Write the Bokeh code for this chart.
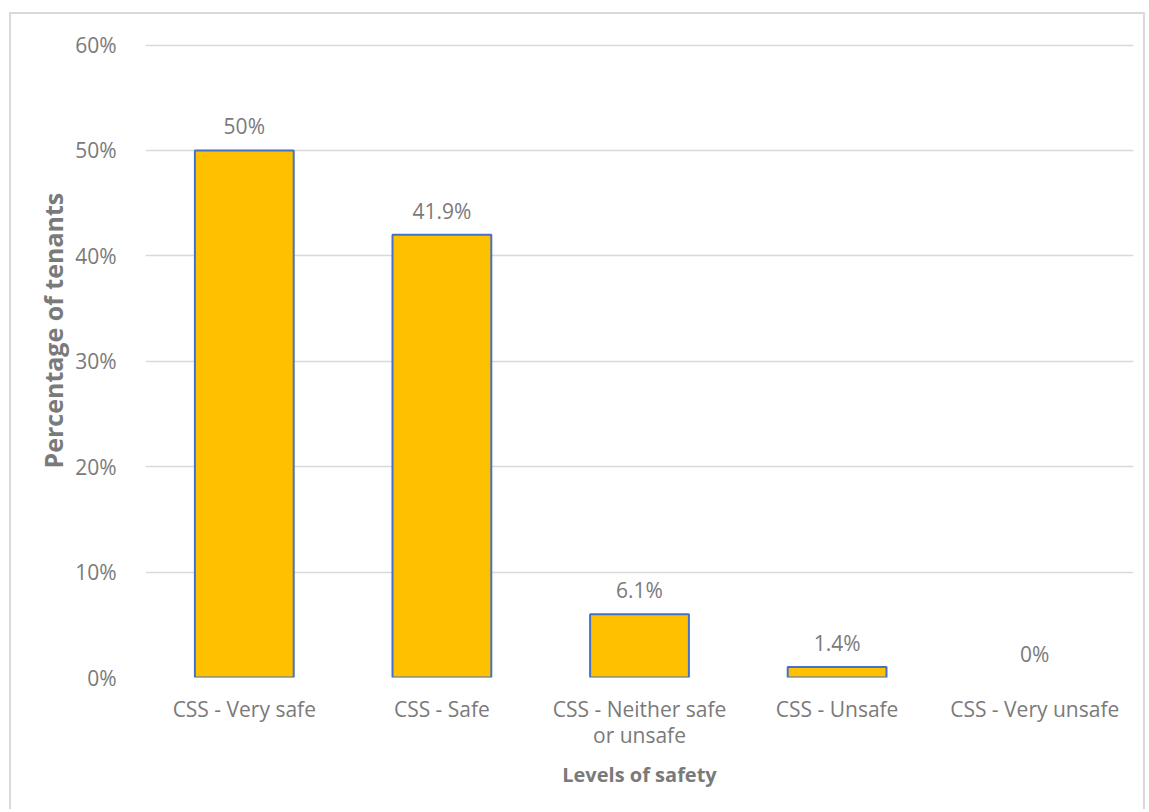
from bokeh.plotting import figure
from bokeh.models import ColumnDataSource, NumeralTickFormatter, FixedTicker, Title
from bokeh.core.properties import value
from bokeh.embed import file_html
from bokeh.resources import INLINE

categories = ["CSS - Very safe", "CSS - Safe", "CSS - Neither safe\nor unsafe", "CSS - Unsafe", "CSS - Very unsafe"]
bar_values = [0.50, 0.42, 0.06, 0.01, 0.0]
bar_labels = ["50%", "41.9%", "6.1%", "1.4%", "0%"]
y_ticks = [0.0, 0.1, 0.2, 0.3, 0.4, 0.5, 0.6]
x_title = "Levels of safety"
y_title = "Percentage of tenants"

FONT = "Open Sans"
GRAY = "#7a7a7a"

src = ColumnDataSource(dict(cat=categories, val=bar_values, lab=bar_labels,
                            la=[1.0 if v > 0 else 0.0 for v in bar_values]))

p = figure(x_range=categories, y_range=(0, 0.6015), width=1136, height=797,
           output_backend="svg", toolbar_location=None,
           min_border_left=134, min_border_right=14, min_border_top=29, min_border_bottom=134)
p.margin = (12, 0, 0, 9)
p.styles = {"border": "2px solid #d9d9d9", "border-bottom": "none"}

p.vbar(x="cat", top="val", width=0.5, source=src, fill_color="#FFC000",
       line_color="#4472C4", line_width=2, line_alpha="la")
p.text(x="cat", y="val", text="lab", source=src, text_align="center", text_baseline="middle",
       y_offset=-24, text_color=GRAY, text_font=value(FONT), text_font_size="21px")

p.outline_line_color = None
p.xgrid.grid_line_color = None
p.ygrid.grid_line_color = "#d9d9d9"
p.ygrid.grid_line_width = 1.5
p.yaxis.ticker = FixedTicker(ticks=y_ticks)
p.yaxis.formatter = NumeralTickFormatter(format="0%")

for ax in (p.xaxis, p.yaxis):
    ax.axis_line_color = None
    ax.major_tick_line_color = None
    ax.minor_tick_line_color = None
    ax.major_label_text_font = FONT
    ax.major_label_text_font_size = "21px"
    ax.major_label_text_color = GRAY

p.xaxis.major_label_text_line_height = 0.95
p.xaxis.major_label_standoff = 11
p.yaxis.major_label_standoff = 23

p.xaxis.axis_label = x_title
p.xaxis.axis_label_text_font = FONT
p.xaxis.axis_label_text_font_style = "bold"
p.xaxis.axis_label_text_color = GRAY
p.xaxis.axis_label_text_font_size = "20px"
p.xaxis.axis_label_standoff = 9

ytitle = Title(text=y_title, align="left", offset=209, standoff=5,
               text_font=FONT, text_font_style="bold", text_font_size="25px",
               text_color=GRAY)
p.add_layout(ytitle, "left")

open("out.html", "w").write(file_html(p, INLINE))
